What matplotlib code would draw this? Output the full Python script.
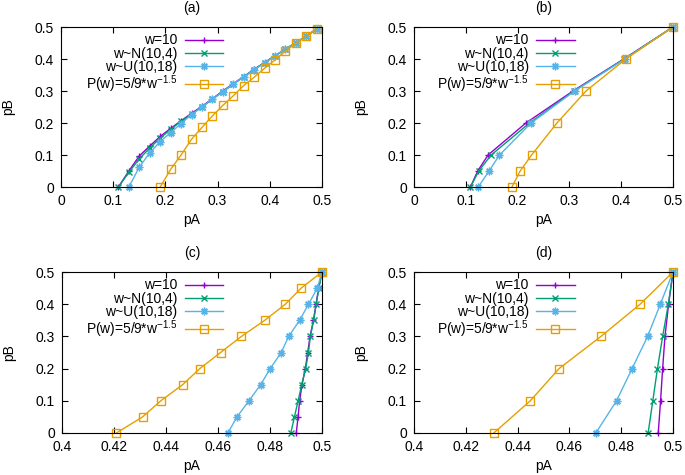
import matplotlib
matplotlib.use("Agg")
import matplotlib.pyplot as plt

plt.rcParams['font.family'] = ['Liberation Sans', 'DejaVu Sans']
plt.rcParams['mathtext.fontset'] = 'custom'
plt.rcParams['mathtext.rm'] = 'Liberation Sans'
plt.rcParams['mathtext.it'] = 'Liberation Sans'

labels = ["w=10", "w~N(10,4)", "w~U(10,18)", "P(w)=5/9*w$^{-1.5}$"]
colors = ["#9400D3", "#009E73", "#56B4E9", "#E69F00"]
markers = ["+", "x", (8, 2, 0), "s"]
msizes = [5, 4.5, 5.5, 5.5]

# ---- panel (a) ----
a_pA_w10 = [0.11, 0.13, 0.15, 0.17, 0.19, 0.21, 0.23, 0.25, 0.27, 0.29,
            0.31, 0.33, 0.35, 0.37, 0.39, 0.41, 0.43, 0.45, 0.47, 0.49]
a_pB_w10 = [0.0, 0.05, 0.097, 0.128, 0.158, 0.183, 0.207, 0.23, 0.252, 0.276,
            0.30, 0.323, 0.345, 0.368, 0.389, 0.41, 0.431, 0.451, 0.472, 0.494]
a_pA_norm = [0.11, 0.13, 0.15, 0.17, 0.19, 0.21, 0.23, 0.25, 0.27, 0.29,
             0.31, 0.33, 0.35, 0.37, 0.39, 0.41, 0.43, 0.45, 0.47, 0.49]
a_pB_norm = [0.0, 0.046, 0.088, 0.122, 0.153, 0.18, 0.205, 0.228, 0.25, 0.274,
             0.298, 0.321, 0.344, 0.367, 0.389, 0.41, 0.431, 0.451, 0.472, 0.494]
a_pA_unif = [0.13, 0.15, 0.17, 0.19, 0.21, 0.23, 0.25, 0.27, 0.29,
             0.31, 0.33, 0.35, 0.37, 0.39, 0.41, 0.43, 0.45, 0.47, 0.49]
a_pB_unif = [0.0, 0.062, 0.107, 0.142, 0.17, 0.198, 0.226, 0.25, 0.275,
             0.298, 0.322, 0.344, 0.367, 0.388, 0.41, 0.431, 0.451, 0.472, 0.494]
a_pA_pow = [0.19, 0.21, 0.23, 0.25, 0.27, 0.29, 0.31, 0.33, 0.35, 0.37,
            0.39, 0.41, 0.43, 0.45, 0.47, 0.49]
a_pB_pow = [0.0, 0.055, 0.1, 0.149, 0.186, 0.222, 0.255, 0.285, 0.317, 0.343,
            0.371, 0.397, 0.425, 0.449, 0.472, 0.494]

# ---- panel (b) ----
b_pB = [0.0, 0.05, 0.1, 0.2, 0.3, 0.4, 0.5]
b_pA_w10 = [0.109, 0.123, 0.143, 0.216, 0.307, 0.405, 0.5]
b_pA_norm = [0.109, 0.125, 0.149, 0.223, 0.309, 0.406, 0.5]
b_pA_unif = [0.124, 0.145, 0.165, 0.226, 0.310, 0.407, 0.5]
b_pA_pow = [0.189, 0.205, 0.227, 0.276, 0.332, 0.409, 0.5]

# ---- panel (c) ----
c_pB = [0.0, 0.05, 0.1, 0.15, 0.2, 0.25, 0.3, 0.35, 0.4, 0.45, 0.5]
c_pA_w10 = [0.4901, 0.4908, 0.4914, 0.4923, 0.4936, 0.4945, 0.4954, 0.4967, 0.4977, 0.4987, 0.5]
c_pA_norm = [0.4880, 0.4894, 0.4908, 0.4922, 0.4937, 0.4948, 0.4955, 0.4968, 0.4978, 0.4988, 0.5]
c_pA_unif = [0.4638, 0.4673, 0.4719, 0.4764, 0.4801, 0.4843, 0.4872, 0.4914, 0.4948, 0.4982, 0.5]
c_pA_pow = [0.4209, 0.4310, 0.4380, 0.4464, 0.4530, 0.4610, 0.4690, 0.4780, 0.4859, 0.4920, 0.5]

# ---- panel (d) ----
d_pB = [0.0, 0.1, 0.2, 0.3, 0.4, 0.5]
d_pA_w10 = [0.4943, 0.4952, 0.4960, 0.4969, 0.4983, 0.5]
d_pA_norm = [0.4904, 0.4922, 0.4940, 0.4960, 0.4982, 0.5]
d_pA_unif = [0.4702, 0.4782, 0.4842, 0.4902, 0.4951, 0.5]
d_pA_pow = [0.4308, 0.4449, 0.4560, 0.4722, 0.4873, 0.5]

panels = [
    ("(a)", [(a_pA_w10, a_pB_w10), (a_pA_norm, a_pB_norm), (a_pA_unif, a_pB_unif), (a_pA_pow, a_pB_pow)],
     (0, 0.5), [0, 0.1, 0.2, 0.3, 0.4, 0.5], ["0", "0.1", "0.2", "0.3", "0.4", "0.5"]),
    ("(b)", [(b_pA_w10, b_pB), (b_pA_norm, b_pB), (b_pA_unif, b_pB), (b_pA_pow, b_pB)],
     (0, 0.5), [0, 0.1, 0.2, 0.3, 0.4, 0.5], ["0", "0.1", "0.2", "0.3", "0.4", "0.5"]),
    ("(c)", [(c_pA_w10, c_pB), (c_pA_norm, c_pB), (c_pA_unif, c_pB), (c_pA_pow, c_pB)],
     (0.4, 0.5), [0.4, 0.42, 0.44, 0.46, 0.48, 0.5], ["0.4", "0.42", "0.44", "0.46", "0.48", "0.5"]),
    ("(d)", [(d_pA_w10, d_pB), (d_pA_norm, d_pB), (d_pA_unif, d_pB), (d_pA_pow, d_pB)],
     (0.4, 0.5), [0.4, 0.42, 0.44, 0.46, 0.48, 0.5], ["0.4", "0.42", "0.44", "0.46", "0.48", "0.5"]),
]

yticks = [0, 0.1, 0.2, 0.3, 0.4, 0.5]
yticklabels = ["0", "0.1", "0.2", "0.3", "0.4", "0.5"]

W, H = 685, 475
fig = plt.figure(figsize=(W / 100, H / 100), dpi=100)
boxes = [(61, 27, 322, 187), (414, 27, 673, 187), (62, 272, 322, 433), (414, 272, 673, 433)]
fs = 10

for (title, series, xlim, xt, xtl), (l, t, r, b) in zip(panels, boxes):
    ax = fig.add_axes([l / W, 1 - b / H, (r - l) / W, (b - t) / H])
    for (xs, ys), c, m, ms, lab in zip(series, colors, markers, msizes, labels):
        if m == "s":
            ax.plot(xs, ys, color=c, marker=m, ms=ms, mfc="none", mew=1.0, lw=1.0, label=lab, clip_on=False)
        else:
            ax.plot(xs, ys, color=c, marker=m, ms=ms, mew=1.0, lw=1.0, label=lab, clip_on=False)
    ax.set_xlim(*xlim)
    ax.set_ylim(0, 0.5)
    ax.set_xticks(xt)
    ax.set_xticklabels(xtl, fontsize=fs)
    ax.set_yticks(yticks)
    ax.set_yticklabels(yticklabels, fontsize=fs)
    ax.tick_params(direction="in", top=True, right=True, length=4.5, width=0.8, pad=5)
    for s in ax.spines.values():
        s.set_linewidth(0.8)
    ax.set_title(title, fontsize=fs, pad=11)
    ax.set_xlabel("pA", fontsize=fs, labelpad=3.5)
    ax.set_ylabel("pB", fontsize=fs, labelpad=14)
    leg = ax.legend(loc="upper right", bbox_to_anchor=(0.62, 0.96), frameon=False, fontsize=fs,
                    markerfirst=False, handlelength=2.75, handletextpad=0.55, labelspacing=-0.05,
                    borderaxespad=0, borderpad=0)
    try:
        for col in leg._legend_handle_box.get_children():
            col.align = "right"
    except Exception:
        pass

fig.savefig("out.png", dpi=100)
